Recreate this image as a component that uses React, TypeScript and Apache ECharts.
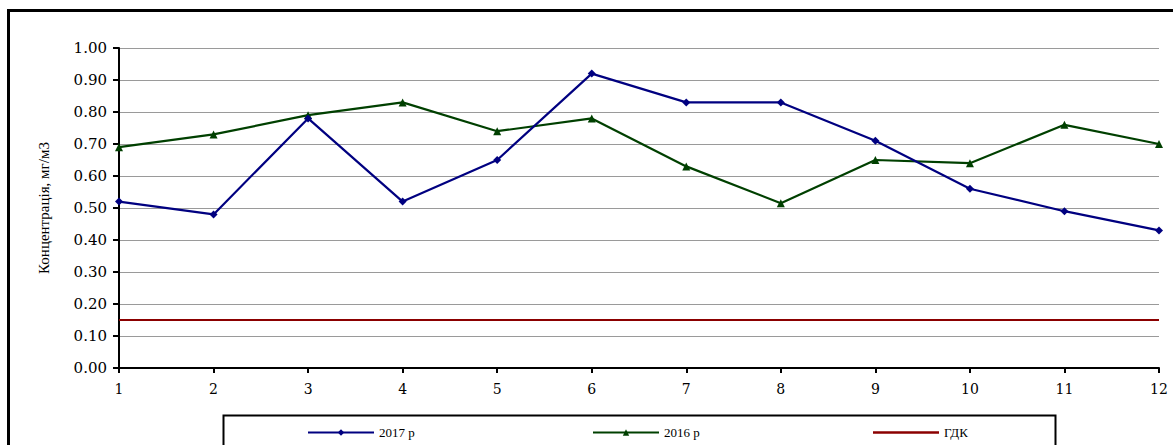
import React, { useEffect, useRef } from "react";
import * as echarts from "echarts";

// Months of the year on the horizontal axis
const months = ["1", "2", "3", "4", "5", "6", "7", "8", "9", "10", "11", "12"];

// Monthly mean concentrations, mg/m3
const values2017 = [0.52, 0.48, 0.78, 0.52, 0.65, 0.92, 0.83, 0.83, 0.71, 0.56, 0.49, 0.43];
const values2016 = [0.69, 0.73, 0.79, 0.83, 0.74, 0.78, 0.63, 0.515, 0.65, 0.64, 0.76, 0.7];

// Maximum permissible concentration (ГДК)
const limitValue = 0.15;
const limitValues = months.map(() => limitValue);

const seriesNames = ["2017 р", "2016 р", "ГДК"];
const axisTitle = "Концентрація, мг/м3";

const serif = "'Liberation Serif', 'Times New Roman', serif";
const tickFont = "'DejaVu Serif', 'Liberation Serif', serif";

export default function App() {
  const ref = useRef<HTMLDivElement>(null);

  useEffect(() => {
    if (!ref.current) return;
    const chart = echarts.init(ref.current, undefined, { renderer: "svg" });

    const legendBase = {
      top: 426,
      itemWidth: 66,
      itemHeight: 8,
      itemGap: 0,
      padding: 0,
      textStyle: { fontFamily: serif, fontSize: 13, color: "#000" },
    };

    chart.setOption({
      animation: false,
      backgroundColor: "#fff",
      grid: { left: 119, right: 14, top: 48, bottom: 77 },
      legend: [
        { ...legendBase, left: 307, data: [seriesNames[0]] },
        { ...legendBase, left: 592, data: [seriesNames[1]] },
        {
          ...legendBase,
          left: 873,
          itemHeight: 2.5,
          data: [{ name: seriesNames[2], icon: "rect" }],
        },
      ],
      xAxis: {
        type: "category",
        data: months,
        boundaryGap: false,
        axisLine: { lineStyle: { color: "#000", width: 2 } },
        axisTick: { show: true, length: 5, lineStyle: { color: "#000", width: 2 } },
        axisLabel: {
          fontFamily: tickFont,
          fontSize: 14,
          color: "#000",
          margin: 14,
          interval: 0,
        },
        splitLine: { show: false },
      },
      yAxis: {
        type: "value",
        min: 0,
        max: 1,
        interval: 0.1,
        name: axisTitle,
        nameLocation: "middle",
        nameGap: 68,
        nameTextStyle: { fontFamily: serif, fontSize: 15, color: "#000" },
        axisLine: { show: true, lineStyle: { color: "#000", width: 2 } },
        axisTick: { show: true, length: 6, lineStyle: { color: "#000", width: 2 } },
        axisLabel: {
          fontFamily: tickFont,
          fontSize: 15,
          color: "#000",
          margin: 12,
          formatter: (v: number) => v.toFixed(2),
        },
        splitLine: { show: true, lineStyle: { color: "#9a9a9a", width: 1.2 } },
      },
      series: [
        {
          name: seriesNames[2],
          type: "line",
          data: limitValues,
          symbol: "none",
          lineStyle: { color: "#8b0000", width: 2.2 },
          itemStyle: { color: "#8b0000" },
          z: 2,
        },
        {
          name: seriesNames[1],
          type: "line",
          data: values2016,
          symbol: "triangle",
          symbolSize: 8,
          lineStyle: { color: "#004000", width: 2.2 },
          itemStyle: { color: "#004000" },
          z: 3,
        },
        {
          name: seriesNames[0],
          type: "line",
          data: values2017,
          symbol: "diamond",
          symbolSize: 8,
          lineStyle: { color: "#000080", width: 2.2 },
          itemStyle: { color: "#000080" },
          z: 4,
        },
      ],
      graphic: [
        {
          type: "rect",
          shape: { x: 8.5, y: 10.5, width: 1300, height: 600 },
          style: { fill: "none", stroke: "#000", lineWidth: 3 },
          silent: true,
          z: 100,
        },
        {
          type: "rect",
          shape: { x: 223.5, y: 415.5, width: 832, height: 60 },
          style: { fill: "none", stroke: "#000", lineWidth: 2 },
          silent: true,
          z: 100,
        },
      ],
    });

    return () => chart.dispose();
  }, []);

  return (
    <div
      ref={ref}
      style={{ position: "fixed", left: 0, top: 0, width: 1173, height: 445 }}
    />
  );
}
